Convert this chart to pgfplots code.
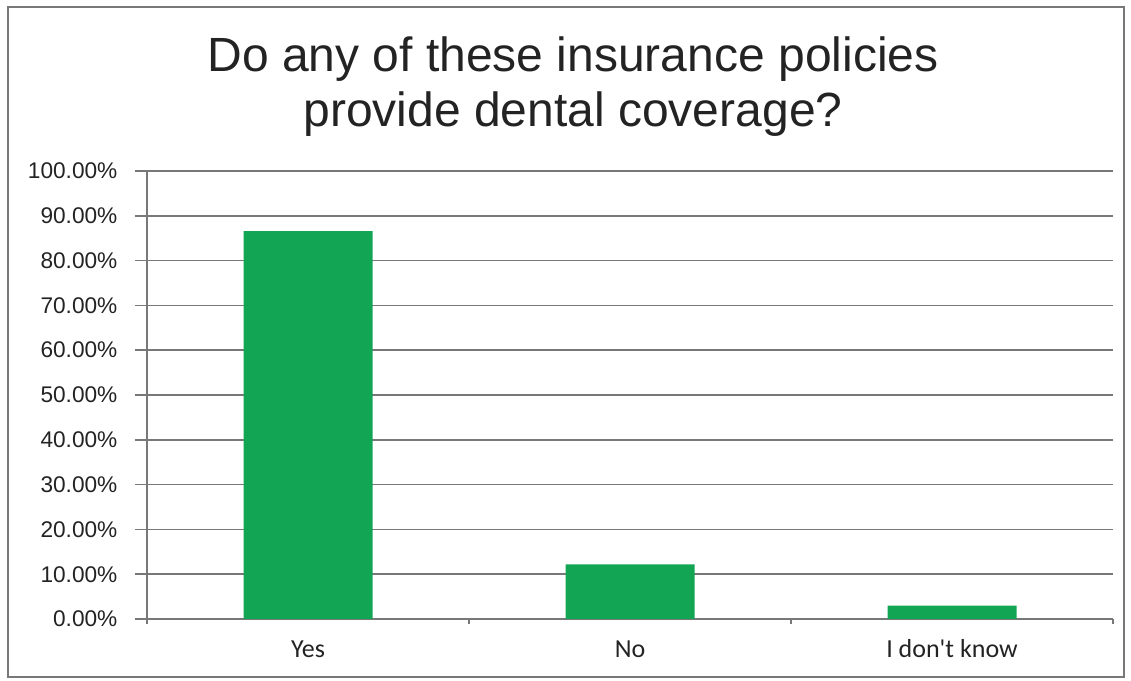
\documentclass[border=0pt]{standalone}
\usepackage{pgfplots}
\pgfplotsset{compat=1.18}
\usepackage{fontspec}
\setmainfont{Liberation Sans}
\newfontfamily\carlito{Carlito}
\definecolor{bargreen}{RGB}{18,166,84}
\definecolor{gridgray}{RGB}{120,120,120}
\definecolor{txt}{RGB}{35,35,35}
\begin{document}
\begin{tikzpicture}
\path[use as bounding box] (0pt,0pt) rectangle (848.25pt,510.75pt);
\draw[gridgray, line width=1pt] (6pt,3pt) rectangle (843pt,505.5pt);
\node[anchor=base, font=\fontsize{36}{40}\selectfont, text=txt, inner sep=0pt] at (429.75pt,456.75pt) {Do any of these insurance policies};
\node[anchor=base, font=\fontsize{36}{40}\selectfont, text=txt, inner sep=0pt] at (429.75pt,415.5pt) {provide dental coverage?};
\begin{axis}[
  at={(110.25pt,46.5pt)}, anchor=south west,
  scale only axis, width=724.5pt, height=336pt,
  xmin=0, xmax=3, ymin=0, ymax=100,
  axis x line=bottom, axis y line=left,
  axis line style={-, draw=gridgray, line width=1.1pt},
  ytick={0,10,...,100},
  ymajorgrids,
  major grid style={draw=gridgray, line width=1.1pt},
  yticklabel={\pgfmathprintnumber[fixed, fixed zerofill, precision=2]{\tick}\%},
  /pgf/number format/assume math mode=true,
  y tick label style={font=\fontsize{17}{20}\selectfont, text=txt, inner sep=0pt, xshift=-13pt},
  tick align=outside,
  major tick length=9pt,
  minor tick length=4pt,
  y tick style={draw=gridgray, line width=1.1pt},
  xtick={0.5,1.5,2.5},
  xticklabels={Yes,No,I don't know},
  x tick style={draw=none},
  minor xtick={0,1,2,3},
  minor x tick style={draw=gridgray, line width=1.1pt},
  x tick label style={font=\carlito\fontsize{19.5}{22}\selectfont, text=txt, anchor=base, inner sep=0pt},
  every x tick label/.append style={yshift=-19.5pt},
  clip=false,
]
\addplot[ybar, bar width=96.75pt, bar shift=0pt, fill=bargreen, draw=none] coordinates {(0.5,86.6) (1.5,12.2) (2.5,3.0)};
\end{axis}
\end{tikzpicture}
\end{document}
